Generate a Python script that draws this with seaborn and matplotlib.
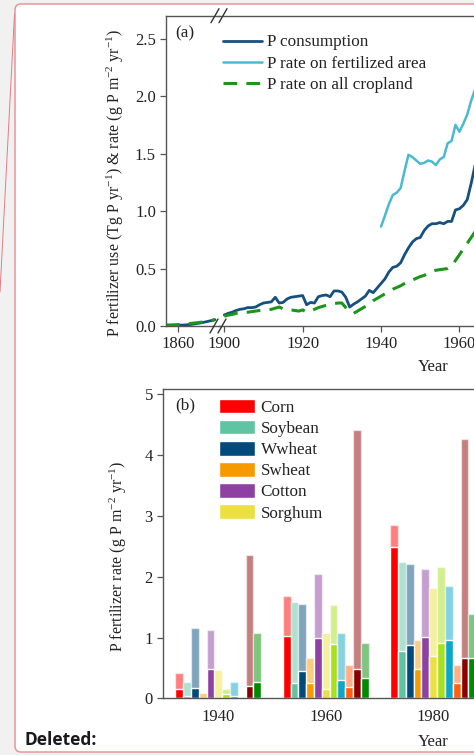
import numpy as np
import pandas as pd
import matplotlib
matplotlib.use("Agg")
import matplotlib.pyplot as plt
import matplotlib.transforms as mtransforms
from matplotlib.patches import FancyBboxPatch, Patch
from matplotlib.lines import Line2D
import seaborn as sns

# ---------------- data: panel (a) ----------------
years_early = [1857, 1858, 1859, 1860, 1861, 1862, 1863, 1864, 1865, 1866, 1867, 1868, 1869]
consumption_early = [0.005, 0.005, 0.006, 0.007, 0.008, 0.010, 0.013, 0.018, 0.024, 0.030, 0.038, 0.046, 0.055]
cropland_early = [0.008, 0.009, 0.010, 0.012, 0.015, 0.018, 0.022, 0.026, 0.030, 0.035, 0.040, 0.047, 0.055]

years_late = list(range(1900, 1967))
consumption_late = [0.096, 0.11, 0.12, 0.135, 0.145, 0.15, 0.16, 0.16, 0.165, 0.185,
                    0.20, 0.205, 0.21, 0.25, 0.20, 0.205, 0.235, 0.25, 0.255, 0.26,
                    0.265, 0.185, 0.205, 0.20, 0.255, 0.265, 0.27, 0.255, 0.305, 0.305,
                    0.295, 0.25, 0.165, 0.19, 0.21, 0.235, 0.26, 0.31, 0.29, 0.33,
                    0.37, 0.41, 0.47, 0.51, 0.52, 0.55, 0.62, 0.68, 0.73, 0.76,
                    0.77, 0.83, 0.87, 0.89, 0.89, 0.90, 0.89, 0.91, 0.91, 1.01,
                    1.02, 1.05, 1.10, 1.24, 1.40, 1.52, 1.62]
cropland_late = [0.085, 0.095, 0.10, 0.11, 0.115, 0.12, 0.12, 0.125, 0.13, 0.135,
                 0.14, 0.14, 0.145, 0.155, 0.165, 0.15, 0.14, 0.14, 0.135, 0.13,
                 0.14, 0.12, 0.13, 0.145, 0.16, 0.17, 0.18, 0.19, 0.195, 0.20,
                 0.20, 0.16, 0.125, 0.11, 0.13, 0.15, 0.17, 0.19, 0.22, 0.24,
                 0.26, 0.28, 0.30, 0.32, 0.335, 0.35, 0.37, 0.39, 0.40, 0.415,
                 0.43, 0.44, 0.46, 0.475, 0.485, 0.49, 0.495, 0.50, 0.52, 0.57,
                 0.62, 0.67, 0.72, 0.77, 0.82, 0.87, 0.92]
years_fert = list(range(1940, 1967))
fertilized_rate = [0.865, 0.96, 1.06, 1.14, 1.16, 1.20, 1.35, 1.49, 1.47, 1.44,
                   1.41, 1.42, 1.44, 1.43, 1.40, 1.45, 1.47, 1.59, 1.61, 1.75,
                   1.69, 1.76, 1.84, 1.96, 2.06, 2.15, 2.25]

# ---------------- data: panel (b) ----------------
bar_years = ["1940", "1960", "1980"]
crops = ["Corn", "Soybean", "Wwheat", "Swheat", "Cotton", "Sorghum",
         "Rice", "Barley", "Durum", "Oats", "Other"]
legend_crops = ["Corn", "Soybean", "Wwheat", "Swheat", "Cotton", "Sorghum"]
total_1940 = [0.41, 0.27, 1.15, 0.08, 1.12, 0.47, 0.15, 0.27, 0.0, 2.35, 1.07]
total_1960 = [1.68, 1.58, 1.55, 0.66, 2.05, 1.08, 1.53, 1.08, 0.54, 4.41, 0.91]
total_1980 = [2.86, 2.25, 2.21, 0.96, 2.12, 1.82, 2.16, 1.85, 0.54, 4.27, 1.38]
base_1940 = [0.16, 0.04, 0.175, 0.01, 0.49, 0.01, 0.07, 0.04, 0.0, 0.20, 0.27]
base_1960 = [1.03, 0.25, 0.45, 0.25, 0.99, 0.15, 0.89, 0.30, 0.19, 0.48, 0.33]
base_1980 = [2.49, 0.78, 0.87, 0.48, 1.01, 0.70, 0.91, 0.96, 0.25, 0.67, 0.66]

crop_colors = ["#ff0000", "#5ec4a1", "#024a7c", "#f79a00", "#8e40a3", "#ece040",
               "#a8e01c", "#0ba6c9", "#ff5f0f", "#8b0000", "#008a00"]
C_CONS = "#17507f"
C_FERT = "#4cb9d2"
C_CROP = "#1a961a"

df_total = pd.DataFrame({
    "year": np.repeat(bar_years, len(crops)),
    "crop": crops * len(bar_years),
    "value": total_1940 + total_1960 + total_1980,
})
df_base = pd.DataFrame({
    "year": np.repeat(bar_years, len(crops)),
    "crop": crops * len(bar_years),
    "value": base_1940 + base_1960 + base_1980,
})

# ---------------- style ----------------
sns.set_style("white")
plt.rcParams["font.family"] = ["Liberation Serif", "DejaVu Serif"]
plt.rcParams["mathtext.fontset"] = "custom"
plt.rcParams["mathtext.rm"] = "Liberation Serif"
plt.rcParams["mathtext.it"] = "Liberation Serif:italic"
plt.rcParams["mathtext.bf"] = "Liberation Serif:bold"

FS_TICK = 12
FS_LEG = 12.3
FS_LAB = 11.5
TXT = "#222222"
SPINE = "#555555"

W, H, DPI = 474, 755, 100
fig = plt.figure(figsize=(W / DPI, H / DPI), dpi=DPI)
fig.patch.set_facecolor("#f1f1f1")
pix = mtransforms.Affine2D().scale(1 / DPI, -1 / DPI).translate(0, H / DPI) + fig.dpi_scale_trans


def rect(l, t, r, b):
    return [l / W, 1 - b / H, (r - l) / W, (b - t) / H]


card = FancyBboxPatch((15, 4), 540, 748, boxstyle="round,pad=0,rounding_size=6",
                      transform=pix, facecolor="white", edgecolor="#e8959a",
                      lw=1.1, zorder=-10)
fig.add_artist(card)
fig.add_artist(Line2D([14.5, 0], [14, 292], transform=pix, color="#e57b82",
                      lw=0.7, zorder=-9))

ax_a1 = fig.add_axes(rect(166, 15.7, 219, 326))
ax_a2 = fig.add_axes(rect(219, 15.7, 700, 326))
ax_b = fig.add_axes(rect(163, 389, 703, 698.3))
for ax in (ax_a1, ax_a2, ax_b):
    ax.set_facecolor("none")
    for s in ax.spines.values():
        s.set_color(SPINE)
        s.set_linewidth(1.0)
    ax.tick_params(direction="out", length=4.3, width=0.9, color=SPINE,
                   labelsize=FS_TICK, labelcolor=TXT, pad=3,
                   left=True, bottom=True)

# ---------------- panel (a) ----------------
sns.lineplot(x=years_early, y=consumption_early, ax=ax_a1, color=C_CONS, lw=2.0)
sns.lineplot(x=years_early, y=cropland_early, ax=ax_a1, color=C_CROP, lw=2.2)
ax_a1.lines[-1].set_linestyle((0, (4.5, 3)))

sns.lineplot(x=years_late, y=consumption_late, ax=ax_a2, color=C_CONS, lw=2.0)
sns.lineplot(x=years_fert, y=fertilized_rate, ax=ax_a2, color=C_FERT, lw=1.8)
sns.lineplot(x=years_late, y=cropland_late, ax=ax_a2, color=C_CROP, lw=2.2)
ax_a2.lines[-1].set_linestyle((0, (4.5, 3)))

ax_a1.set_xlim(1857, 1870)
ax_a2.set_xlim(1898.65, 2021.4)
for ax in (ax_a1, ax_a2):
    ax.set_ylim(0, 2.70)
ax_a1.set_xticks([1860])
ax_a2.set_xticks([1900, 1920, 1940, 1960, 1980, 2000, 2020])
ax_a1.set_yticks([0, 0.5, 1.0, 1.5, 2.0, 2.5])
ax_a1.set_yticklabels(["0.0", "0.5", "1.0", "1.5", "2.0", "2.5"])
ax_a1.spines["right"].set_visible(False)
ax_a2.spines["left"].set_visible(False)
ax_a2.tick_params(left=False, labelleft=False)

ax_a1.set_ylabel("P fertilizer use (Tg P yr$^{-1}$) & rate (g P m$^{-2}$ yr$^{-1}$)",
                 fontsize=FS_LAB, color=TXT)
ax_a1.yaxis.set_label_coords(115 / W, 1 - 183 / H, transform=fig.transFigure)
ax_a1.yaxis.label.set_va("center")
ax_a1.set_xlabel("")
ax_a2.set_xlabel("Year", fontsize=FS_TICK, color=TXT)
ax_a2.xaxis.set_label_coords(433 / W, 1 - 367 / H, transform=fig.transFigure)
ax_a2.xaxis.label.set_va("center")

handles_a = [Line2D([], [], color=C_CONS, lw=2.0),
             Line2D([], [], color=C_FERT, lw=1.8),
             Line2D([], [], color=C_CROP, lw=2.2, ls=(0, (4.5, 3)))]
ax_a2.legend(handles_a, ["P consumption", "P rate on fertilized area", "P rate on all cropland"],
             loc="upper left", bbox_to_anchor=(223, 34.5), bbox_transform=pix,
             frameon=False, borderpad=0, borderaxespad=0, handlelength=2.3,
             handletextpad=0.25, labelspacing=0.3, fontsize=FS_LEG, labelcolor=TXT)

# break marks
for cx, cy in [(214, 326), (222, 326), (215, 15.7), (223, 15.7)]:
    fig.add_artist(Line2D([cx - 4, cx + 4], [cy + 7, cy - 7], transform=pix,
                          color="#333333", lw=1.0, zorder=10))

fig.text(185 / W, 1 - 33 / H, "(a)", fontsize=FS_LEG, color=TXT, ha="center", va="center")

# ---------------- panel (b) ----------------
sns.barplot(data=df_total, x="year", y="value", hue="crop", order=bar_years,
            hue_order=crops, palette=crop_colors, alpha=0.5, saturation=1,
            width=0.8, edgecolor="white", linewidth=1.0, errorbar=None,
            legend=False, ax=ax_b)
sns.barplot(data=df_base, x="year", y="value", hue="crop", order=bar_years,
            hue_order=crops, palette=crop_colors, saturation=1,
            width=0.8, edgecolor="white", linewidth=1.0, errorbar=None,
            legend=False, ax=ax_b)
ax_b.set_xlim(-0.514, 4.51)
ax_b.set_ylim(0, 5.09)
ax_b.set_yticks([0, 1, 2, 3, 4, 5])
ax_b.tick_params(axis="x", length=0, pad=8)
ax_b.set_ylabel("P fertilizer rate (g P m$^{-2}$ yr$^{-1}$)", fontsize=FS_LAB, color=TXT)
ax_b.yaxis.set_label_coords(118 / W, 1 - 556 / H, transform=fig.transFigure)
ax_b.yaxis.label.set_va("center")
ax_b.set_xlabel("Year", fontsize=FS_TICK, color=TXT)
ax_b.xaxis.set_label_coords(433 / W, 1 - 742 / H, transform=fig.transFigure)
ax_b.xaxis.label.set_va("center")

handles_b = [Patch(facecolor=c, edgecolor="white", lw=1.0) for c in crop_colors[:6]]
ax_b.legend(handles_b, legend_crops, loc="upper left", bbox_to_anchor=(219, 398.5),
            bbox_transform=pix, frameon=False, borderpad=0, borderaxespad=0,
            handlelength=2.1, handleheight=0.95, handletextpad=0.33,
            labelspacing=0.23, fontsize=FS_LEG, labelcolor=TXT)

fig.text(185.7 / W, 1 - 405 / H, "(b)", fontsize=FS_LEG, color=TXT, ha="center", va="center")

fig.text(25 / W, 1 - 740 / H, "Deleted:", fontsize=12.5, fontweight="bold",
         family=["Open Sans", "DejaVu Sans"], color="#1a1a1a", ha="left", va="center")

fig.savefig("out.png", dpi=DPI, facecolor=fig.get_facecolor())
